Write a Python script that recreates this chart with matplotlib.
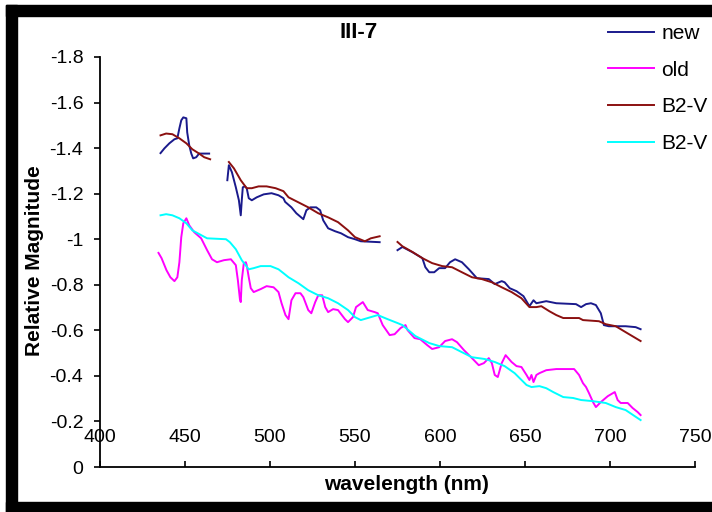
import numpy as np
import matplotlib.pyplot as plt
from matplotlib.patches import Rectangle

nan = np.nan

# "new" curve (three pieces, broken by nan)
new_wl = [435.6, 437.9, 440.8, 443.8, 445.5, 446.7, 447.8, 449.0, 450.8, 451.3, 452.5, 453.7,
          454.8, 456.6, 458.3, 460.1, 464.2, nan,
          474.9, 475.8, 477.6, 479.9, 481.7, 482.8, 483.4, 484.0, 485.2, 486.3, 487.5, 489.3,
          492.2, 496.3, 500.9, 505.0, 507.9, 508.9, 512.6, 515.5, 519.6, 521.4, 523.7, 527.2,
          529.5, 531.3, 534.2, 538.3, 541.8, 545.9, 550.0, 553.4, 564.5, nan,
          575.0, 577.9, 583.8, 589.6, 591.4, 593.7, 596.6, 599.5, 603.0, 605.9, 608.9, 612.9,
          617.0, 621.7, 628.7, 632.2, 636.3, 638.0, 641.0, 645.0, 649.1, 652.6, 655.0, 656.7,
          662.5, 668.4, 680.0, 683.0, 685.9, 688.8, 691.7, 694.6, 696.4, 699.3, 709.2, 715.1, 718.0]
new_mag = [-1.378, -1.399, -1.421, -1.439, -1.443, -1.487, -1.522, -1.535, -1.531, -1.469, -1.412, -1.376,
           -1.355, -1.360, -1.376, -1.376, -1.376, nan,
           -1.259, -1.325, -1.294, -1.228, -1.171, -1.105, -1.171, -1.228, -1.232, -1.224, -1.180, -1.171,
           -1.184, -1.197, -1.202, -1.193, -1.180, -1.164, -1.140, -1.114, -1.088, -1.127, -1.140, -1.140,
           -1.127, -1.083, -1.048, -1.035, -1.026, -1.009, -1.000, -0.991, -0.987, nan,
           -0.952, -0.966, -0.943, -0.917, -0.877, -0.855, -0.855, -0.873, -0.873, -0.899, -0.912, -0.899,
           -0.868, -0.829, -0.825, -0.803, -0.816, -0.811, -0.785, -0.772, -0.750, -0.706, -0.732, -0.719,
           -0.728, -0.719, -0.715, -0.702, -0.715, -0.719, -0.711, -0.675, -0.623, -0.618, -0.618, -0.614, -0.605]

# "old" curve
old_wl = [434.4, 436.2, 439.1, 441.4, 443.8, 445.5, 446.7, 447.8, 449.0, 450.8, 452.5, 455.4,
          459.5, 463.0, 465.9, 468.8, 472.9, 477.0, 479.9, 481.1, 482.3, 482.8, 483.4, 484.6,
          485.8, 486.3, 487.5, 488.7, 490.4, 494.5, 498.0, 502.1, 505.0, 506.8, 509.1, 510.9,
          512.6, 515.0, 517.9, 519.6, 522.5, 524.3, 526.6, 528.4, 530.7, 532.5, 534.2, 537.1,
          540.0, 544.1, 545.9, 548.8, 550.6, 554.6, 557.5, 561.6, 563.4, 566.3, 570.4, 573.3,
          576.8, 579.7, 580.9, 585.0, 588.4, 592.5, 595.4, 599.5, 603.0, 607.1, 610.0, 614.1,
          618.8, 622.8, 625.8, 628.7, 630.5, 632.2, 634.0, 636.3, 638.6, 642.1, 645.0, 647.9,
          650.9, 652.6, 653.8, 655.0, 656.7, 658.5, 662.5, 668.4, 678.9, 681.8, 684.1, 685.9,
          687.6, 690.0, 691.7, 694.6, 698.7, 702.8, 704.5, 706.3, 710.4, 713.3, 716.3, 718.0]
old_mag = [-0.940, -0.917, -0.864, -0.833, -0.816, -0.833, -0.899, -1.009, -1.070, -1.092, -1.061, -1.031,
           -1.004, -0.952, -0.912, -0.899, -0.908, -0.912, -0.886, -0.820, -0.737, -0.724, -0.820, -0.895,
           -0.899, -0.886, -0.833, -0.785, -0.768, -0.781, -0.794, -0.789, -0.768, -0.719, -0.667, -0.649,
           -0.732, -0.763, -0.763, -0.746, -0.689, -0.675, -0.724, -0.754, -0.754, -0.702, -0.680, -0.693,
           -0.689, -0.649, -0.636, -0.658, -0.702, -0.724, -0.689, -0.680, -0.675, -0.623, -0.579, -0.583,
           -0.610, -0.623, -0.601, -0.566, -0.561, -0.535, -0.518, -0.526, -0.553, -0.561, -0.548, -0.513,
           -0.478, -0.447, -0.456, -0.478, -0.456, -0.404, -0.395, -0.456, -0.491, -0.461, -0.443, -0.439,
           -0.404, -0.382, -0.404, -0.373, -0.404, -0.412, -0.425, -0.430, -0.430, -0.404, -0.368, -0.351,
           -0.325, -0.285, -0.263, -0.285, -0.311, -0.329, -0.294, -0.281, -0.281, -0.259, -0.241, -0.228]

# B2-V (dark red), three pieces
b2v_wl = [435.6, 438.9, 442.6, 446.7, 450.8, 454.3, 458.3, 461.3, 464.8, nan,
          475.8, 478.8, 482.8, 486.3, 489.3, 493.3, 498.0, 503.3, 507.9, 510.9, 516.7, 522.5,
          528.4, 534.2, 540.0, 545.9, 550.0, 555.8, 559.3, 564.5, nan,
          575.0, 577.9, 583.8, 589.6, 595.4, 601.3, 607.1, 612.9, 618.8, 624.6, 630.5, 636.3,
          642.1, 647.9, 652.6, 656.7, 659.6, 664.3, 668.4, 672.5, 681.8, 684.1, 693.5, 697.5,
          703.4, 709.2, 718.0]
b2v_mag = [-1.456, -1.464, -1.461, -1.443, -1.421, -1.395, -1.376, -1.360, -1.351, nan,
           -1.339, -1.311, -1.259, -1.224, -1.224, -1.232, -1.232, -1.224, -1.211, -1.184, -1.162, -1.140,
           -1.114, -1.096, -1.075, -1.039, -1.009, -0.991, -1.004, -1.013, nan,
           -0.988, -0.969, -0.944, -0.917, -0.895, -0.882, -0.877, -0.855, -0.833, -0.825, -0.811, -0.789,
           -0.768, -0.741, -0.702, -0.702, -0.706, -0.684, -0.667, -0.654, -0.654, -0.645, -0.640, -0.627,
           -0.618, -0.592, -0.553]

# B2-V (cyan)
b2v2_wl = [435.6, 438.9, 442.6, 446.7, 450.8, 454.3, 459.5, 463.0, 474.1, 476.4, 479.9, 483.4,
           487.5, 490.4, 494.5, 500.3, 505.0, 507.9, 510.9, 516.7, 522.5, 528.4, 534.2, 540.0,
           545.9, 550.0, 553.4, 557.5, 563.4, 569.2, 575.0, 577.9, 585.5, 593.7, 599.5, 607.1,
           612.9, 618.8, 626.4, 632.2, 638.0, 643.9, 650.9, 653.8, 658.5, 662.5, 666.6, 672.5,
           678.3, 683.0, 690.0, 697.5, 703.4, 709.2, 718.0]
b2v2_mag = [-1.105, -1.110, -1.105, -1.092, -1.070, -1.039, -1.018, -1.004, -1.000, -0.987, -0.956, -0.908,
            -0.868, -0.873, -0.882, -0.882, -0.868, -0.851, -0.833, -0.807, -0.776, -0.754, -0.741, -0.719,
            -0.689, -0.658, -0.645, -0.654, -0.667, -0.649, -0.632, -0.623, -0.575, -0.544, -0.531, -0.526,
            -0.504, -0.482, -0.474, -0.461, -0.443, -0.412, -0.360, -0.351, -0.355, -0.346, -0.329, -0.307,
            -0.303, -0.294, -0.289, -0.281, -0.263, -0.250, -0.206]

x_ticks = [400, 450, 500, 550, 600, 650, 700, 750]
y_ticks = [-1.8, -1.6, -1.4, -1.2, -1.0, -0.8, -0.6, -0.4, -0.2, 0.0]
y_labels = ['-1.8', '-1.6', '-1.4', '-1.2', '-1', '-0.8', '-0.6', '-0.4', '-0.2', '0']

plt.rcParams['font.family'] = ['Liberation Sans', 'DejaVu Sans']

W, H = 712, 512
fig = plt.figure(figsize=(W / 100, H / 100), dpi=100)
ax = fig.add_axes([100 / W, 1 - 467 / H, 595 / W, 410 / H])

ax.plot(new_wl, new_mag, color='#1a1a8c', lw=1.4, label='new')
ax.plot(old_wl, old_mag, color='#ff00ff', lw=1.4, label='old')
ax.plot(b2v_wl, b2v_mag, color='#8b1010', lw=1.4, label='B2-V')
ax.plot(b2v2_wl, b2v2_mag, color='#00ffff', lw=1.4, label='B2-V')

ax.set_xlim(400, 750)
ax.set_ylim(0, -1.8)
ax.set_xticks(x_ticks)
ax.set_xticklabels([str(t) for t in x_ticks])
ax.set_yticks(y_ticks)
ax.set_yticklabels(y_labels)

for s in ['top', 'right']:
    ax.spines[s].set_visible(False)
for s in ['left', 'bottom']:
    ax.spines[s].set_linewidth(1.3)

ax.tick_params(axis='x', direction='in', length=4, width=1.2, pad=-27, labelsize=14)
ax.tick_params(axis='y', direction='out', length=4, width=1.2, pad=8, labelsize=14)

fig.text(359 / W, 1 - 33 / H, 'III-7', ha='center', va='center', fontsize=16, fontweight='bold')
fig.text(407 / W, 1 - 485 / H, 'wavelength (nm)', ha='center', va='center', fontsize=15, fontweight='bold')
fig.text(35 / W, 1 - 261 / H, 'Relative Magnitude', ha='center', va='center', rotation=90,
         fontsize=15, fontweight='bold')

fig.legend(loc='upper left', bbox_to_anchor=(608 / W, 1 - 24 / H), frameon=False, fontsize=15,
           handlelength=2.2, handletextpad=0.35, labelspacing=0.85, borderpad=0, borderaxespad=0)

# black frame around the chart (right side cut off in the original)
k = dict(transform=fig.transFigure, color='black', zorder=10, clip_on=False)
fig.patches.append(Rectangle((6 / W, 0), 11 / W, 1 - 5 / H, **k))
fig.patches.append(Rectangle((6 / W, 1 - 16 / H), 1, 11 / H, **k))
fig.patches.append(Rectangle((6 / W, 0), 1, 10 / H, **k))

fig.savefig('out.png', dpi=100)
